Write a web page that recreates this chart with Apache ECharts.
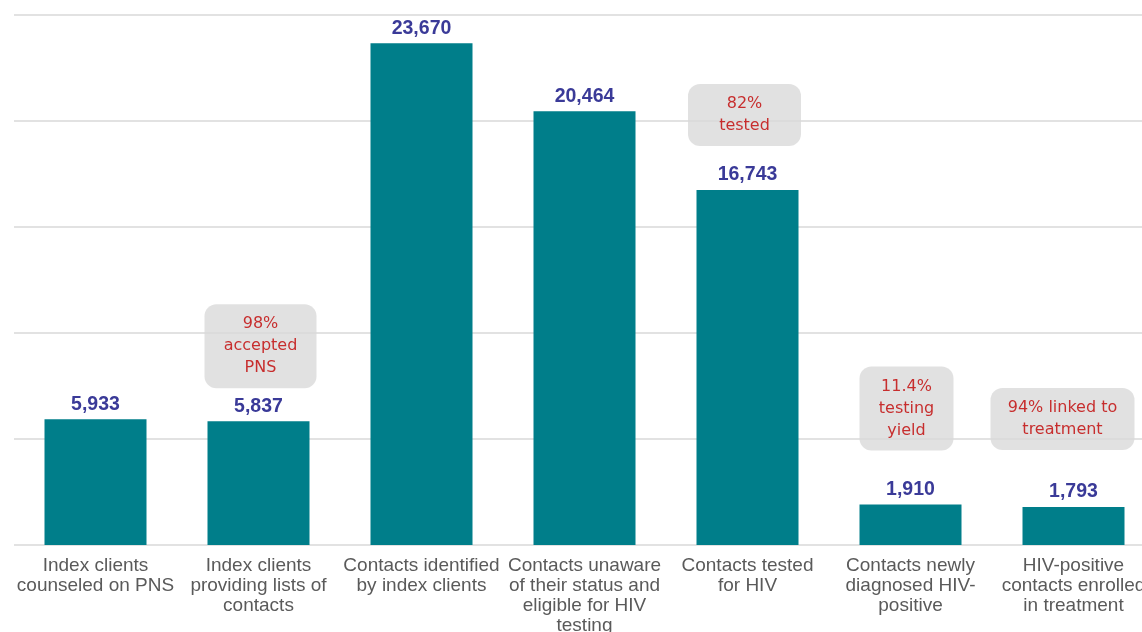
<!DOCTYPE html>
<html>
<head>
<meta charset="utf-8">
<script src="https://cdn.jsdelivr.net/npm/echarts@6/dist/echarts.min.js"></script>
<style>
  html, body { margin: 0; padding: 0; background: #ffffff; }
  #chart { width: 1142px; height: 632px; }
</style>
</head>
<body>
<div id="chart"></div>
<script>
// PNS cascade: steps of the partner notification cascade
const categories = [
  'Index clients\ncounseled on PNS',
  'Index clients\nproviding lists of\ncontacts',
  'Contacts identified\nby index clients',
  'Contacts unaware\nof their status and\neligible for HIV\ntesting',
  'Contacts tested\nfor HIV',
  'Contacts newly\ndiagnosed HIV-\npositive',
  'HIV-positive\ncontacts enrolled\nin treatment'
];
const counts = [5933, 5837, 23670, 20464, 16743, 1910, 1793];

// Percentage notes shown above some of the steps ('' = no note)
const notes = ['', '98%\naccepted\nPNS', '', '', '82%\ntested', '11.4%\ntesting\nyield', '94% linked to\ntreatment'];

const yTicks = { min: 0, max: 25000, interval: 5000 };

// Placement of each note box relative to its bar (pixels)
const noteStyle = {
  1: { distance: 33, dx: 2,   width: 100 },
  4: { distance: 44, dx: -3,  width: 101 },
  5: { distance: 54, dx: -4,  width: 82 },
  6: { distance: 57, dx: -11, width: 132 }
};

const noteData = counts.map((v, i) => {
  if (!notes[i]) return '-';
  const s = noteStyle[i];
  return {
    value: v,
    label: {
      show: true,
      formatter: notes[i],
      distance: s.distance,
      offset: [s.dx, 0],
      width: s.width
    }
  };
});

const chart = echarts.init(document.getElementById('chart'), null, { renderer: 'canvas' });
chart.setOption({
  animation: false,
  backgroundColor: '#ffffff',
  grid: { left: 14, width: 1141, top: 15, bottom: 87, containLabel: false, outerBoundsMode: 'none' },
  xAxis: {
    type: 'category',
    data: categories,
    axisLine: { show: false },
    axisTick: { show: false },
    axisLabel: {
      interval: 0,
      margin: 11,
      fontFamily: 'Liberation Sans, Arial, sans-serif',
      fontSize: 19,
      lineHeight: 20,
      color: '#5A5A5A',
      align: 'center',
      hideOverlap: false
    }
  },
  yAxis: {
    type: 'value',
    min: yTicks.min,
    max: yTicks.max,
    interval: yTicks.interval,
    axisLabel: { show: false },
    axisLine: { show: false },
    axisTick: { show: false },
    splitLine: { lineStyle: { color: '#D9D9D9', width: 1.5 } }
  },
  series: [
    {
      type: 'bar',
      data: counts,
      barWidth: 102,
      itemStyle: { color: '#007E8A' },
      label: {
        show: true,
        position: 'top',
        distance: 5,
        formatter: p => p.value.toLocaleString('en-US'),
        fontFamily: 'Liberation Sans, Arial, sans-serif',
        fontWeight: 'bold',
        fontSize: 19.5,
        color: '#3A3A98'
      },
      z: 2
    },
    {
      type: 'scatter',
      data: noteData,
      symbolSize: 0,
      silent: true,
      label: {
        show: true,
        position: 'top',
        align: 'center',
        fontFamily: 'DejaVu Sans, sans-serif',
        fontSize: 16,
        lineHeight: 22,
        color: '#C00000',
        backgroundColor: '#D9D9D9',
        borderRadius: 12,
        padding: [9, 6]
      },
      z: 3
    }
  ]
});
</script>
</body>
</html>
